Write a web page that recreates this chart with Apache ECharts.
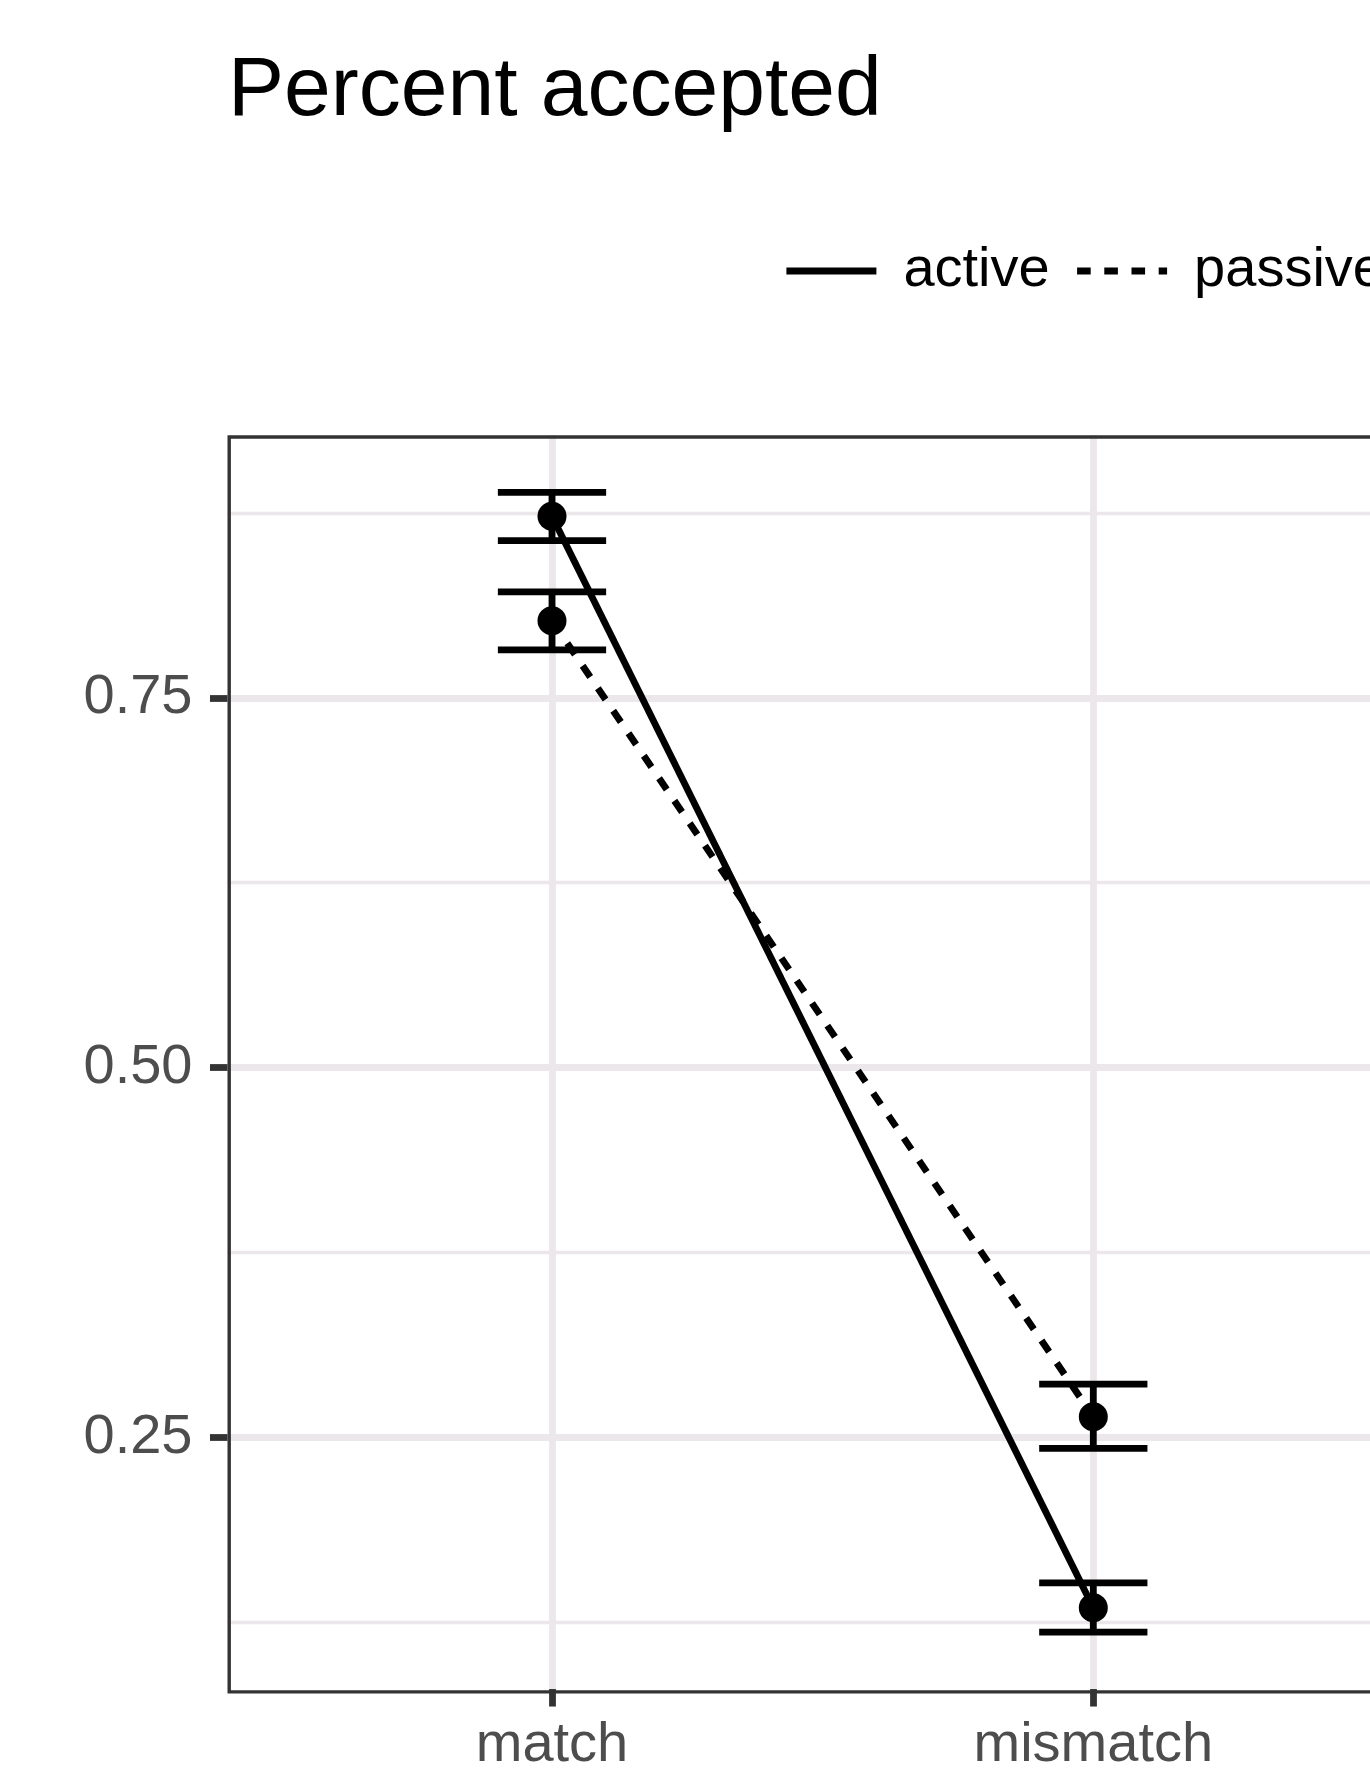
<!DOCTYPE html>
<html>
<head>
<meta charset="utf-8">
<script src="https://cdn.jsdelivr.net/npm/echarts@6/dist/echarts.min.js"></script>
<style>
html, body { margin: 0; padding: 0; overflow: hidden; background: #ffffff; }
#chart { width: 1500px; height: 1774px; }
</style>
</head>
<body>
<div id="chart"></div>
<script>
// ---- data ----
const categories = ['match', 'mismatch'];
const seriesNames = ['active', 'passive'];
const activeMean = [0.8726, 0.1319];
const activeLow = [0.8560, 0.1154];
const activeHigh = [0.8888, 0.1488];
const passiveMean = [0.8016, 0.2615];
const passiveLow = [0.7818, 0.2401];
const passiveHigh = [0.8212, 0.2836];
const yMajorTicks = [0.25, 0.50, 0.75];
const titleText = 'Percent accepted';

// ---- layout / style ----
const FONT = "'Liberation Sans', Arial, Helvetica, sans-serif";
const PANEL_L = 227.5, PANEL_R = 1418, PANEL_T = 435.3, PANEL_B = 1693.6;
const CAT_X0 = 552, CAT_X1 = 1093.3;
const LW = 6.8;           // ggplot 0.5 linewidth at this resolution
const GRID_COLOR = '#ECE7EA';
const AXIS_COLOR = '#333333';
const LABEL_COLOR = '#4D4D4D';
const ERR_WIDTH = 0.2;    // errorbar width in category units
const DASH = [13.6, 13.6];
const TITLE_SIZE = 84, TEXT_SIZE = 56;

// text placement helpers (glyph ink relative to zrender's 'middle' baseline)
const mctx = document.createElement('canvas').getContext('2d');
function inkAscent(str, size) {
  mctx.font = size + 'px ' + FONT;
  mctx.textBaseline = 'middle';
  return mctx.measureText(str).actualBoundingBoxAscent;
}
function inkLeft(str, size) {
  mctx.font = size + 'px ' + FONT;
  mctx.textBaseline = 'middle';
  return mctx.measureText(str).actualBoundingBoxLeft;
}
// title: P cap top at 57.5, stem at x 234
const titleTop = 57.5 + inkAscent('P', TITLE_SIZE) - TITLE_SIZE / 2;
const titleLeft = 234 + inkLeft('P', TITLE_SIZE);
// x labels: ascender top at 1726
const xLabelMargin = 1726 + inkAscent('h', TEXT_SIZE) - TEXT_SIZE / 2 - PANEL_B;

// y limits as ggplot: data range of error bars expanded by 5%
const allLow = activeLow.concat(passiveLow);
const allHigh = activeHigh.concat(passiveHigh);
const dLo = Math.min.apply(null, allLow), dHi = Math.max.apply(null, allHigh);
const pad = 0.05 * (dHi - dLo);
const Y_MIN = dLo - pad, Y_MAX = dHi + pad;
const pxPerUnit = (PANEL_B - PANEL_T) / (Y_MAX - Y_MIN);
function yPix(v) { return PANEL_T + (Y_MAX - v) * pxPerUnit; }
const majStep = yMajorTicks[1] - yMajorTicks[0];
const majLo = yMajorTicks[0], majHi = yMajorTicks[yMajorTicks.length - 1];
const minLo = majLo - majStep / 2, minHi = majHi + majStep / 2;

function errData(lo, hi) {
  return categories.map((c, i) => [i, lo[i], hi[i]]);
}
function errRender(params, api) {
  const x = api.value(0);
  const pLo = api.coord([x, api.value(1)]);
  const pHi = api.coord([x, api.value(2)]);
  const half = api.size([1, 0])[0] * ERR_WIDTH / 2;
  const style = { stroke: '#000', lineWidth: LW, lineCap: 'butt' };
  return {
    type: 'group',
    children: [
      { type: 'line', shape: { x1: pLo[0], y1: pLo[1], x2: pHi[0], y2: pHi[1] }, style: style },
      { type: 'line', shape: { x1: pHi[0] - half, y1: pHi[1], x2: pHi[0] + half, y2: pHi[1] }, style: style },
      { type: 'line', shape: { x1: pLo[0] - half, y1: pLo[1], x2: pLo[0] + half, y2: pLo[1] }, style: style }
    ]
  };
}

const chart = echarts.init(document.getElementById('chart'), null, { renderer: 'canvas' });
const option = {
  animation: false,
  backgroundColor: '#ffffff',
  textStyle: { fontFamily: FONT },
  title: {
    text: titleText,
    left: titleLeft, top: titleTop, padding: 0,
    textStyle: { fontFamily: FONT, fontSize: TITLE_SIZE, fontWeight: 'normal', color: '#000', lineHeight: TITLE_SIZE }
  },
  legend: {
    data: seriesNames,
    left: 783, top: 271 - TEXT_SIZE / 2, padding: 0,
    itemWidth: 90, itemHeight: 7, itemGap: 24,
    itemStyle: { opacity: 0 },
    lineStyle: { width: LW, color: '#000' },
    textStyle: { fontFamily: FONT, fontSize: TEXT_SIZE, color: '#000', lineHeight: TEXT_SIZE, padding: [0, 0, 0, 22] },
    selectedMode: false
  },
  grid: [
    { left: CAT_X0, width: CAT_X1 - CAT_X0, top: PANEL_T, height: PANEL_B - PANEL_T },
    { left: PANEL_L, width: PANEL_R - PANEL_L, top: yPix(majHi), height: yPix(majLo) - yPix(majHi) },
    { left: PANEL_L, width: PANEL_R - PANEL_L, top: yPix(minHi), height: yPix(minLo) - yPix(minHi) },
    { left: PANEL_L + LW / 4, width: PANEL_R - PANEL_L - LW / 2, top: PANEL_T + LW / 4, height: PANEL_B - PANEL_T - LW / 2,
      show: true, borderColor: AXIS_COLOR, borderWidth: LW / 2, backgroundColor: 'transparent', z: 10 }
  ],
  xAxis: [
    { gridIndex: 0, type: 'category', data: categories, boundaryGap: false,
      axisLine: { show: false },
      axisTick: { show: true, length: 17.5, lineStyle: { color: AXIS_COLOR, width: LW } },
      axisLabel: { interval: 0, margin: xLabelMargin, fontSize: TEXT_SIZE, color: LABEL_COLOR, fontFamily: FONT, lineHeight: TEXT_SIZE },
      splitLine: { show: true, lineStyle: { color: GRID_COLOR, width: LW } } },
    { gridIndex: 1, type: 'value', show: false },
    { gridIndex: 2, type: 'value', show: false },
    { gridIndex: 3, type: 'value', show: false }
  ],
  yAxis: [
    { gridIndex: 0, type: 'value', min: Y_MIN, max: Y_MAX, show: false },
    { gridIndex: 1, type: 'value', min: majLo, max: majHi, interval: majStep,
      axisLine: { show: false },
      axisTick: { show: true, length: 17.5, lineStyle: { color: AXIS_COLOR, width: LW } },
      axisLabel: { margin: 35, fontSize: TEXT_SIZE, color: LABEL_COLOR, fontFamily: FONT,
                   formatter: v => v.toFixed(2) },
      splitLine: { show: true, lineStyle: { color: GRID_COLOR, width: LW } } },
    { gridIndex: 2, type: 'value', min: minLo, max: minHi, interval: majStep,
      axisLine: { show: false }, axisTick: { show: false }, axisLabel: { show: false },
      splitLine: { show: true, lineStyle: { color: GRID_COLOR, width: LW / 2 } } },
    { gridIndex: 3, type: 'value', show: false }
  ],
  series: [
    { name: 'active-err', type: 'custom', xAxisIndex: 0, yAxisIndex: 0,
      data: errData(activeLow, activeHigh), encode: { x: 0, y: [1, 2] }, renderItem: errRender, z: 3 },
    { name: 'passive-err', type: 'custom', xAxisIndex: 0, yAxisIndex: 0,
      data: errData(passiveLow, passiveHigh), encode: { x: 0, y: [1, 2] }, renderItem: errRender, z: 3 },
    { name: seriesNames[0], type: 'line', xAxisIndex: 0, yAxisIndex: 0, data: activeMean,
      symbol: 'circle', symbolSize: 29, showSymbol: true,
      itemStyle: { color: '#000' }, lineStyle: { color: '#000', width: LW, type: 'solid' },
      emphasis: { disabled: true }, z: 4 },
    { name: seriesNames[1], type: 'line', xAxisIndex: 0, yAxisIndex: 0, data: passiveMean,
      symbol: 'circle', symbolSize: 29, showSymbol: true,
      itemStyle: { color: '#000' }, lineStyle: { color: '#000', width: LW, type: DASH },
      emphasis: { disabled: true }, z: 4 }
  ]
};
chart.setOption(option);
</script>
</body>
</html>
